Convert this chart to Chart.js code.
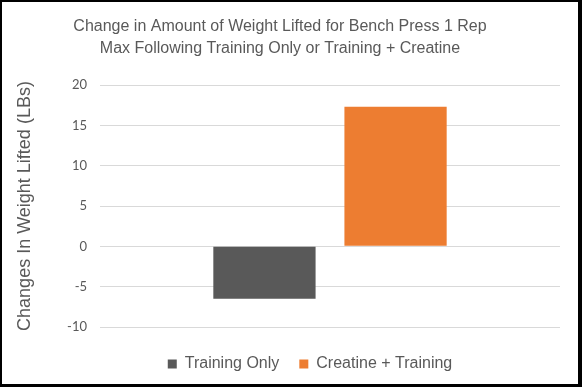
<!DOCTYPE html>
<html>
<head>
<meta charset="utf-8">
<script src="https://cdn.jsdelivr.net/npm/chart.js@4.4.0/dist/chart.umd.min.js"></script>
<style>
  html, body { margin: 0; padding: 0; background: #fff; }
  #wrap { position: relative; width: 582px; height: 387px; }
  #frame { position: absolute; left: 0; top: 0; width: 582px; height: 387px; box-sizing: border-box;
           border-left: 2px solid #000; border-top: 2px solid #000; border-right: 4px solid #000; border-bottom: 3px solid #000;
           pointer-events: none; }
</style>
</head>
<body>
<div id="wrap">
  <canvas id="c" width="582" height="387"></canvas>
  <div id="frame"></div>
</div>
<script>
const categories = [''];
const seriesNames = ['Training Only', 'Creatine + Training'];
const trainingOnly = [-6.5];
const creatineTraining = [17.3];
const yTicks = [-10, -5, 0, 5, 10, 15, 20];
const titleLines = ['Change in Amount of Weight Lifted for Bench Press 1 Rep', 'Max Following Training Only or Training + Creatine'];
const yAxisTitle = 'Changes In Weight Lifted (LBs)';

const textColor = '#595959';

const legendShift = {
  id: 'legendShift',
  afterLayout(chart) {
    if (chart.legend) { chart.legend.left += 30; chart.legend.right += 30; }
  }
};

new Chart(document.getElementById('c'), {
  type: 'bar',
  data: {
    labels: categories,
    datasets: [
      { label: seriesNames[0], data: trainingOnly, backgroundColor: '#595959', borderWidth: 0 },
      { label: seriesNames[1], data: creatineTraining, backgroundColor: '#ED7D31', borderWidth: 0 }
    ]
  },
  options: {
    responsive: false,
    animation: false,
    devicePixelRatio: 1,
    layout: { padding: { left: 0, right: 22, top: 0, bottom: 5 } },
    datasets: { bar: { categoryPercentage: 0.57, barPercentage: 0.78 } },
    scales: {
      x: {
        ticks: { display: false },
        grid: { display: false, drawTicks: false },
        border: { display: false },
        afterFit(scale) { scale.height = 9; }
      },
      y: {
        min: yTicks[0],
        max: yTicks[yTicks.length - 1],
        afterBuildTicks(scale) { scale.ticks = yTicks.map(v => ({ value: v })); },
        ticks: { stepSize: 5, padding: 13, color: textColor, font: { family: 'Lato', size: 13 } },
        grid: { color: '#d9d9d9', lineWidth: 1, drawTicks: false },
        border: { display: false },
        title: { display: true, text: yAxisTitle, color: textColor, padding: { top: 14, bottom: 0 },
                 font: { family: '"Liberation Sans", Arial, sans-serif', size: 18, lineHeight: 1.2 } },
        afterFit(scale) { scale.width = 100; }
      }
    },
    plugins: {
      title: {
        display: true,
        text: titleLines,
        color: textColor,
        padding: { top: 16, bottom: 25.5 },
        font: { family: '"Liberation Sans", Arial, sans-serif', size: 16, weight: 'normal', lineHeight: 1.36 }
      },
      legend: {
        position: 'bottom',
        labels: {
          boxWidth: 9, boxHeight: 9, padding: 20, color: textColor,
          font: { family: '"Liberation Sans", Arial, sans-serif', size: 16 }
        }
      },
      tooltip: { enabled: false }
    }
  },
  plugins: [legendShift]
});
</script>
</body>
</html>
